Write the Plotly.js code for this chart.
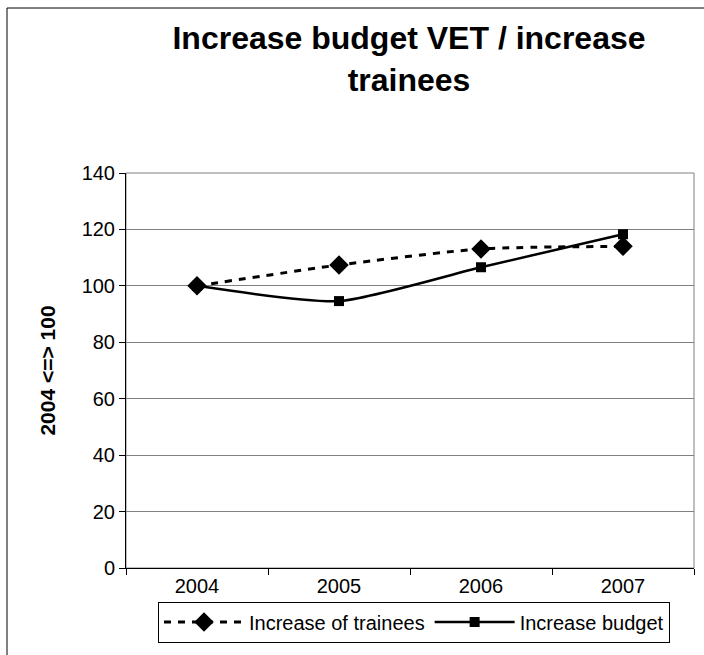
<!DOCTYPE html>
<html>
<head>
<meta charset="utf-8">
<script src="https://cdn.plot.ly/plotly-3.0.1.min.js"></script>
<style>
  html, body { margin: 0; padding: 0; background: #fff; }
  #chart { width: 704px; height: 655px; }
</style>
</head>
<body>
<div id="chart"></div>
<script>
// Index values, 2004 = 100
const years = ['2004', '2005', '2006', '2007'];
const trainees = [100, 107.4, 113.1, 114];
const budget = [100, 94.6, 106.6, 118.3];
const yTicks = [0, 20, 40, 60, 80, 100, 120, 140];

const font = 'Arial, "Liberation Sans", sans-serif';

const traces = [
  {
    x: years, y: trainees, name: 'Increase of trainees',
    type: 'scatter', mode: 'lines+markers',
    line: { color: '#000', width: 3, dash: '7px,7px', shape: 'spline', smoothing: 0.6 },
    marker: { symbol: 'diamond', size: 15, color: '#000' }
  },
  {
    x: years, y: budget, name: 'Increase budget',
    type: 'scatter', mode: 'lines+markers',
    line: { color: '#000', width: 2.5, shape: 'spline', smoothing: 0.6 },
    marker: { symbol: 'square', size: 10, color: '#000' }
  }
];

const layout = {
  width: 704, height: 655,
  margin: { l: 126, r: 10, t: 173, b: 87 },
  paper_bgcolor: '#fff', plot_bgcolor: '#fff',
  font: { family: font, color: '#000', size: 20 },
  title: {
    text: '<b>Increase budget VET / increase<br>trainees</b>',
    font: { family: font, size: 32, color: '#000' },
    x: 409 / 704, xanchor: 'center', y: 1 - 49 / 655, yanchor: 'middle', yref: 'container'
  },
  xaxis: {
    type: 'category', range: [-0.5, 3.5],
    tickson: 'boundaries', ticks: 'outside', ticklen: 6, tickcolor: '#000',
    showline: true, linecolor: '#000', linewidth: 1,
    showgrid: false, zeroline: false,
    tickfont: { size: 20 }
  },
  yaxis: {
    range: [0, 140], tickvals: yTicks,
    ticks: 'outside', ticklen: 6, tickcolor: '#000',
    showline: true, linecolor: '#000', linewidth: 1,
    showgrid: true, gridcolor: '#808080', gridwidth: 1,
    zeroline: false, tickfont: { size: 20 },
    title: { text: '<b>2004 <=> 100</b>', font: { size: 21 }, standoff: 20 }
  },
  showlegend: true,
  legend: {
    orientation: 'h', x: 0.507, xanchor: 'center', y: -0.085, yanchor: 'top',
    bordercolor: '#000', borderwidth: 1, bgcolor: '#fff',
    font: { size: 20 }, itemwidth: 80, traceorder: 'normal'
  },
  shapes: [
    // grey plot-area frame (top and right edges)
    { type: 'rect', xref: 'paper', yref: 'paper', x0: 0, x1: 1, y0: 0, y1: 1,
      line: { color: '#808080', width: 1 }, layer: 'below' },
    // outer chart frame
    { type: 'rect', xref: 'paper', yref: 'paper',
      x0: -119 / 568, x1: 1.05, y0: -0.3, y1: (568 - 8) / 395,
      line: { color: '#000', width: 1 } }
  ]
};

Plotly.newPlot('chart', traces, layout, { displayModeBar: false, staticPlot: true });
</script>
</body>
</html>
